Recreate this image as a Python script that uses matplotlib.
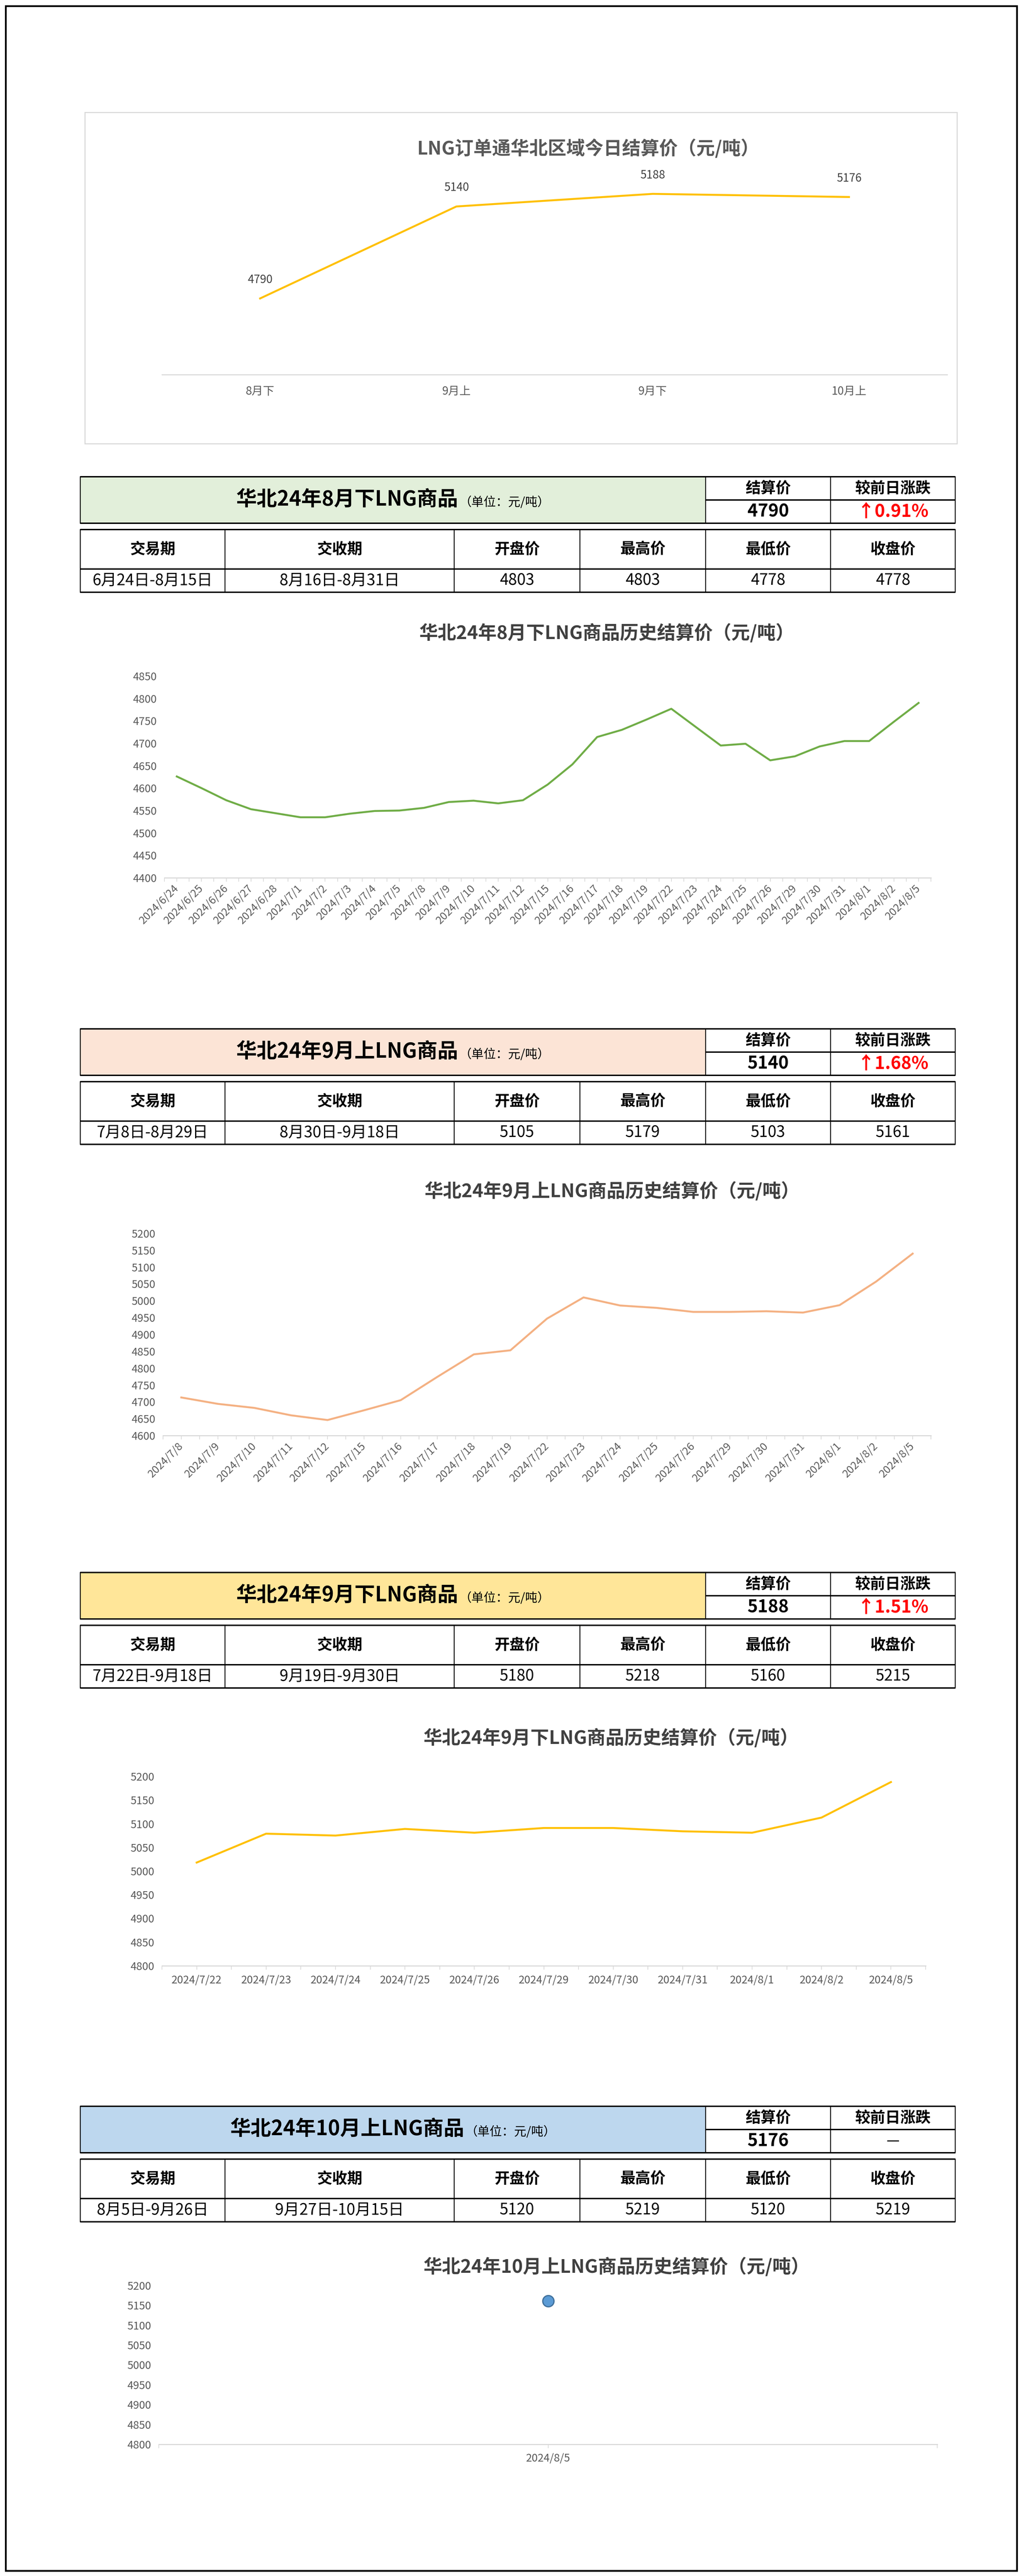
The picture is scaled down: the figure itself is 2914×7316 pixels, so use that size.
import numpy as np
import matplotlib
matplotlib.use('Agg')
import matplotlib.pyplot as plt
from matplotlib.patches import Rectangle

plt.rcParams['font.family'] = ['Noto Sans CJK SC', 'DejaVu Sans']

W, H = 2914, 7316

# 今日结算价
summary_labels = ['8月下', '9月上', '9月下', '10月上']
summary_prices = [4790, 5140, 5188, 5176]

# 各合约表格
contract_names = ['华北24年8月下LNG商品', '华北24年9月上LNG商品',
                  '华北24年9月下LNG商品', '华北24年10月上LNG商品']
settle_prices = ['4790', '5140', '5188', '5176']
change_texts = ['↑0.91%', '↑1.68%', '↑1.51%', '—']
trade_periods = ['6月24日-8月15日', '7月8日-8月29日', '7月22日-9月18日', '8月5日-9月26日']
delivery_periods = ['8月16日-8月31日', '8月30日-9月18日', '9月19日-9月30日', '9月27日-10月15日']
open_prices = [4803, 5105, 5180, 5120]
high_prices = [4803, 5179, 5218, 5219]
low_prices = [4778, 5103, 5160, 5120]
close_prices = [4778, 5161, 5215, 5219]
table_headers = ['交易期', '交收期', '开盘价', '最高价', '最低价', '收盘价']

# 历史结算价
dates_aug2 = ['2024/6/24', '2024/6/25', '2024/6/26', '2024/6/27', '2024/6/28',
              '2024/7/1', '2024/7/2', '2024/7/3', '2024/7/4', '2024/7/5',
              '2024/7/8', '2024/7/9', '2024/7/10', '2024/7/11', '2024/7/12',
              '2024/7/15', '2024/7/16', '2024/7/17', '2024/7/18', '2024/7/19',
              '2024/7/22', '2024/7/23', '2024/7/24', '2024/7/25', '2024/7/26',
              '2024/7/29', '2024/7/30', '2024/7/31', '2024/8/1', '2024/8/2', '2024/8/5']
hist_aug2 = [4626, 4600, 4573, 4553, 4544, 4535, 4535, 4543, 4549, 4550,
             4556, 4569, 4572, 4566, 4573, 4608, 4653, 4714, 4730, 4753,
             4777, 4736, 4695, 4699, 4662, 4671, 4693, 4705, 4705, 4748, 4790]

dates_sep1 = ['2024/7/8', '2024/7/9', '2024/7/10', '2024/7/11', '2024/7/12',
              '2024/7/15', '2024/7/16', '2024/7/17', '2024/7/18', '2024/7/19',
              '2024/7/22', '2024/7/23', '2024/7/24', '2024/7/25', '2024/7/26',
              '2024/7/29', '2024/7/30', '2024/7/31', '2024/8/1', '2024/8/2', '2024/8/5']
hist_sep1 = [4713, 4694, 4682, 4660, 4646, 4675, 4705, 4774, 4841, 4853,
             4947, 5010, 4986, 4979, 4967, 4967, 4969, 4965, 4987, 5057, 5140]

dates_sep2 = ['2024/7/22', '2024/7/23', '2024/7/24', '2024/7/25', '2024/7/26',
              '2024/7/29', '2024/7/30', '2024/7/31', '2024/8/1', '2024/8/2', '2024/8/5']
hist_sep2 = [5018, 5079, 5075, 5089, 5081, 5091, 5091, 5084, 5081, 5113, 5188]

dates_oct1 = ['2024/8/5']
hist_oct1 = [5161]

fills = ['#E2EFDA', '#FCE4D6', '#FFE699', '#BDD7EE']
line_colors = ['#70AD47', '#F4B183', '#FFC000']
GRAY = '#595959'
AXIS_GRAY = '#D9D9D9'
PT = 0.72  # 1像素对应的磅数(dpi=100)

fig = plt.figure(figsize=(W / 100, H / 100), dpi=100)
fig.patch.set_facecolor('white')

bg = fig.add_axes([0, 0, 1, 1])
bg.set_xlim(0, W)
bg.set_ylim(H, 0)
bg.axis('off')


def px_axes(x0, y0, x1, y1):
    ax = fig.add_axes([x0 / W, 1 - y1 / H, (x1 - x0) / W, (y1 - y0) / H])
    ax.set_facecolor('none')
    return ax


def style_axis(ax, ticks=True):
    for s in ['top', 'right', 'left']:
        ax.spines[s].set_visible(False)
    ax.spines['bottom'].set_color(AXIS_GRAY)
    ax.spines['bottom'].set_linewidth(3 * PT)
    ax.tick_params(axis='y', length=0, labelsize=22, labelcolor=GRAY, pad=22 * PT)
    if ticks:
        ax.tick_params(axis='x', which='both', length=11 * PT, width=2 * PT,
                       color=AXIS_GRAY, labelsize=22, labelcolor=GRAY)
    else:
        ax.tick_params(axis='x', length=0, labelsize=23, labelcolor=GRAY, pad=32 * PT)


# 外框
bg.add_patch(Rectangle((16, 17), 2872, 7284, fill=False, ec='black', lw=5 * PT))

# 顶部图表
bg.add_patch(Rectangle((241, 319), 2477, 941, fill=False, ec=AXIS_GRAY, lw=3 * PT))
bg.text(1670, 423, 'LNG订单通华北区域今日结算价（元/吨）', fontsize=38, fontweight='bold',
        color=GRAY, ha='center', va='center')
ax0 = px_axes(460, 467, 2690, 1064)
ax0.plot(summary_labels, summary_prices, color='#FFC000', lw=5.5 * PT, solid_joinstyle='round')
for lab, v in zip(summary_labels, summary_prices):
    ax0.annotate(str(v), (lab, v), xytext=(0, 53), textcoords='offset pixels',
                 ha='center', va='center', fontsize=23, color='#404040')
ax0.set_xlim(-0.5, len(summary_labels) - 0.5)
ax0.set_ylim(4500, 5300)
ax0.set_yticks([])
style_axis(ax0, ticks=False)


# 表格
def draw_table(i, top):
    xs = [228, 639, 1290, 1647, 2004, 2359, 2713]
    hb = top + 132
    hm = top + 66
    dt = top + 150
    dm = dt + 112
    db = dm + 66
    thick = 4 * PT
    thin = 2.5 * PT
    bg.add_patch(Rectangle((xs[0], top), xs[4] - xs[0], 132, fc=fills[i], ec='none'))
    for yy in [top, hb, dt, dm, db]:
        bg.plot([xs[0], xs[6]], [yy, yy], color='black', lw=thick, solid_capstyle='butt')
    bg.plot([xs[4], xs[6]], [hm, hm], color='black', lw=thick, solid_capstyle='butt')
    for xx in [xs[0], xs[4], xs[5], xs[6]]:
        bg.plot([xx, xx], [top, hb], color='black', lw=thin)
    for xx in xs:
        bg.plot([xx, xx], [dt, db], color='black', lw=thin)

    c5 = (xs[4] + xs[5]) / 2
    c6 = (xs[5] + xs[6]) / 2
    bg.text(c5, (top + hm) / 2, '结算价', fontsize=31, fontweight='bold', ha='center', va='center')
    bg.text(c6, (top + hm) / 2, '较前日涨跌', fontsize=31, fontweight='bold', ha='center', va='center')
    bg.text(c5, (hm + hb) / 2, settle_prices[i], fontsize=36, fontweight='bold',
            ha='center', va='center')
    up = change_texts[i].startswith('↑')
    bg.text(c6, (hm + hb) / 2, change_texts[i], fontsize=36 if up else 30,
            fontweight='bold' if up else 'normal',
            color='#FF0000' if up else 'black', ha='center', va='center')

    row = [trade_periods[i], delivery_periods[i], str(open_prices[i]),
           str(high_prices[i]), str(low_prices[i]), str(close_prices[i])]
    for k in range(6):
        cx = (xs[k] + xs[k + 1]) / 2
        bg.text(cx, (dt + dm) / 2, table_headers[k], fontsize=31, fontweight='bold',
                ha='center', va='center')
        bg.text(cx, (dm + db) / 2, row[k], fontsize=32, ha='center', va='center')

    big = bg.text(0, (top + hb) / 2, contract_names[i], fontsize=42, fontweight='bold',
                  ha='left', va='center')
    small = bg.text(0, (top + hb) / 2 + 7, '（单位：元/吨）', fontsize=25,
                    ha='left', va='center')
    return big, small, (xs[0] + xs[4]) / 2


title_pairs = []
for i, top in enumerate([1354, 2922, 4466, 5982]):
    title_pairs.append(draw_table(i, top))


# 历史结算价图表
def history_chart(box, dates, values, color, ylim, title, title_xy, rotate, marker=False):
    ax = px_axes(*box)
    n = len(dates)
    if marker:
        ax.plot(dates, values, ls='none', marker='o', ms=23, mfc='#5B9BD5',
                mec='#41719C', mew=2.5)
    else:
        ax.plot(dates, values, color=color, lw=5.5 * PT, solid_joinstyle='round')
    ax.set_xlim(-0.5, n - 0.5)
    ax.set_ylim(*ylim)
    ax.set_yticks(np.arange(ylim[0], ylim[1] + 1, 50))
    ax.set_xticks(np.arange(-0.5, n, 1.0), minor=True)
    style_axis(ax)
    if rotate:
        ax.set_xticks(range(n))
        ax.set_xticklabels(dates, rotation=45, ha='right', rotation_mode='anchor', va='center')
    ax.tick_params(axis='x', which='major', pad=14 * PT)
    bg.text(title_xy[0], title_xy[1], title, fontsize=38, fontweight='bold',
            color='#404040', ha='center', va='center')
    return ax


history_chart((467, 1920, 2644, 2493), dates_aug2, hist_aug2, line_colors[0], (4400, 4850),
              '华北24年8月下LNG商品历史结算价（元/吨）', (1723, 1798), True)
history_chart((463, 3503, 2644, 4077), dates_sep1, hist_sep1, line_colors[1], (4600, 5200),
              '华北24年9月上LNG商品历史结算价（元/吨）', (1738, 3383), True)
history_chart((460, 5045, 2629, 5583), dates_sep2, hist_sep2, line_colors[2], (4800, 5200),
              '华北24年9月下LNG商品历史结算价（元/吨）', (1735, 4936), False)
history_chart((451, 6491, 2662, 6942), dates_oct1, hist_oct1, None, (4800, 5200),
              '华北24年10月上LNG商品历史结算价（元/吨）', (1751, 6438), False, marker=True)

# 表格标题居中(大字+单位)
fig.canvas.draw()
renderer = fig.canvas.get_renderer()
for big, small, cx in title_pairs:
    wb = big.get_window_extent(renderer).width
    ws = small.get_window_extent(renderer).width
    gap = 4
    x0 = cx - (wb + gap + ws) / 2
    big.set_x(x0)
    small.set_x(x0 + wb + gap)

fig.savefig('out.png', dpi=100, facecolor='white')
